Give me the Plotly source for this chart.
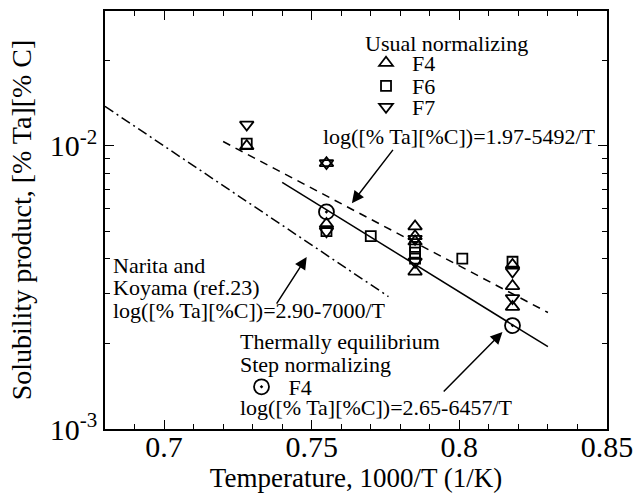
import math
import plotly.graph_objects as go

# 1000/T (1/K) and solubility product [%Ta][%C], usual normalizing
f4_x = [0.728, 0.755, 0.755, 0.785, 0.785, 0.785, 0.785, 0.818, 0.818, 0.818]
f4_y = [0.0100, 0.0087, 0.0053, 0.0052, 0.0048, 0.0046, 0.0036, 0.0038, 0.0032, 0.0027]
f6_x = [0.728, 0.755, 0.770, 0.785, 0.785, 0.785, 0.801, 0.818]
f6_y = [0.0102, 0.0050, 0.0048, 0.0044, 0.0042, 0.0040, 0.0040, 0.0039]
f7_x = [0.728, 0.755, 0.755, 0.785, 0.785, 0.818, 0.818]
f7_y = [0.0119, 0.0087, 0.0050, 0.0047, 0.0039, 0.0036, 0.0029]

# thermally equilibrium, step normalizing (F4)
eq_x = [0.755, 0.818]
eq_y = [0.00585, 0.00232]

# regression lines log([%Ta][%C]) = a - b/T, drawn over their x spans
usual_fit = (1.97, 5492, [0.720, 0.830])
step_fit = (2.65, 6457, [0.740, 0.830])
narita_fit = (2.90, 7000, [0.680, 0.776])

FONT = "Liberation Serif"
TXT = dict(family=FONT, size=22, color="black")


def fit_line(a, b, xs):
    return xs, [10 ** (a - b * x / 1000.0) for x in xs]


def ly(v):
    # annotation positions on a log axis are given in log10 units
    return math.log10(v)


fig = go.Figure()

marker_line = dict(color="black", width=1.8)
fig.add_trace(go.Scatter(x=f4_x, y=f4_y, mode="markers", name="F4",
                         marker=dict(symbol="triangle-up-open", size=12, color="black", line=marker_line),
                         legend="legend"))
fig.add_trace(go.Scatter(x=f6_x, y=f6_y, mode="markers", name="F6",
                         marker=dict(symbol="square-open", size=10, color="black", line=marker_line),
                         legend="legend3"))
fig.add_trace(go.Scatter(x=f7_x, y=f7_y, mode="markers", name="F7",
                         marker=dict(symbol="triangle-down-open", size=12, color="black", line=marker_line),
                         legend="legend4"))

for (a, b, xs), dash in [(usual_fit, "8px,6px"), (step_fit, "solid"), (narita_fit, "10px,4px,2px,4px")]:
    lx, lyv = fit_line(a, b, xs)
    fig.add_trace(go.Scatter(x=lx, y=lyv, mode="lines", showlegend=False,
                             line=dict(color="black", width=1.5, dash=dash)))

fig.add_trace(go.Scatter(x=eq_x, y=eq_y, mode="markers", name="F4",
                         marker=dict(symbol="circle-open-dot", size=15, color="black", line=marker_line),
                         legend="legend2"))

# text labels: (x, y, text, anchor)
labels = [
    (0.7956, 0.0230, "Usual normalizing", "center"),
    (0.7532, 0.01082, "log([% Ta][%C])=1.97-5492/T", "left"),
    (0.6820, 0.00379, "Narita and", "left"),
    (0.6820, 0.00315, "Koyama (ref.23)", "left"),
    (0.6820, 0.00263, "log([% Ta][%C])=2.90-7000/T", "left"),
    (0.7252, 0.00203, "Thermally equilibrium", "left"),
    (0.7252, 0.00169, "Step normalizing", "left"),
    (0.7252, 0.00119, "log([% Ta][%C])=2.65-6457/T", "left"),
]
for x, y, t, anchor in labels:
    fig.add_annotation(x=x, y=ly(y), xref="x", yref="y", xanchor=anchor, yanchor="middle",
                       text=t, showarrow=False, font=TXT)

# pointer arrows (head at x/y, tail at ax/ay)
for hx, hy, tx, ty in [(0.7636, 0.00628, 0.7779, 0.00981),
                       (0.7483, 0.00405, 0.7378, 0.00274),
                       (0.8146, 0.00220, 0.7942, 0.00134)]:
    fig.add_annotation(x=hx, y=ly(hy), ax=tx, ay=ly(ty), xref="x", yref="y", axref="x", ayref="y",
                       text="", showarrow=True, arrowhead=2, arrowsize=1.6, arrowwidth=1.5,
                       arrowcolor="black")

axis_common = dict(showline=True, linecolor="black", linewidth=1.5, mirror="allticks",
                   ticks="inside", ticklen=9, tickwidth=1.3, tickcolor="black",
                   showgrid=False, zeroline=False, automargin=False,
                   tickfont=dict(family=FONT, size=30, color="black"))

fig.update_xaxes(range=[0.68, 0.85], tickvals=[0.7, 0.75, 0.8, 0.85],
                 ticktext=["0.7", "0.75", "0.8", "0.85"], ticklabelstandoff=-10,
                 minor=dict(ticks="inside", ticklen=5, tickwidth=1.2, tickcolor="black", dtick=0.01,
                            tick0=0.68),
                 title=dict(text="Temperature, 1000/T (1/K)", standoff=4,
                            font=dict(family=FONT, size=27, color="black")),
                 **axis_common)
fig.update_yaxes(type="log", range=[-3, -1.523], tickvals=[0.001, 0.01],
                 ticktext=["10<sup>-3</sup>", "10<sup>-2</sup>"],
                 minor=dict(ticks="inside", ticklen=5, tickwidth=1.2, tickcolor="black",
                            tickvals=[0.002, 0.003, 0.004, 0.005, 0.006, 0.007, 0.008, 0.009,
                                      0.02, 0.03]),
                 title=dict(text="Solubility product, [% Ta][% C]", standoff=10,
                            font=dict(family=FONT, size=28, color="black")),
                 **axis_common)

leg = dict(xanchor="left", yanchor="middle", font=TXT, bgcolor="rgba(0,0,0,0)",
           itemwidth=42, borderwidth=0)
fig.update_layout(
    width=634, height=501,
    margin=dict(l=105, r=27, t=11, b=72, autoexpand=False),
    paper_bgcolor="white", plot_bgcolor="white",
    font=dict(family=FONT, color="black"),
    legend=dict(x=0.508, y=0.8756, **leg),
    legend3=dict(x=0.508, y=0.8206, **leg),
    legend4=dict(x=0.508, y=0.7703, **leg),
    legend2=dict(x=0.258, y=0.1005, **{**leg, "itemwidth": 44}),
)

fig.write_html("out.html")
